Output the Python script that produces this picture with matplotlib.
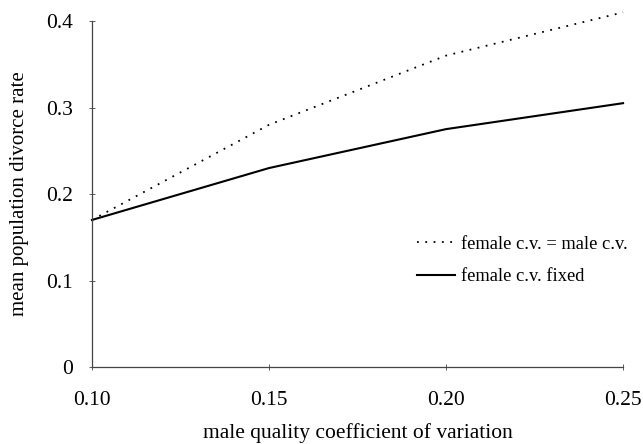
import matplotlib
matplotlib.use("Agg")
import matplotlib.pyplot as plt

x = [0.10, 0.15, 0.20, 0.25]
equal_cv = [0.17, 0.28, 0.36, 0.41]
fixed_cv = [0.17, 0.23, 0.275, 0.305]
xticks = [0.10, 0.15, 0.20, 0.25]
xtick_labels = ["0.10", "0.15", "0.20", "0.25"]
yticks = [0, 0.1, 0.2, 0.3, 0.4]
ytick_labels = ["0", "0.1", "0.2", "0.3", "0.4"]

plt.rcParams['font.family'] = ['Liberation Serif', 'DejaVu Serif']

fig = plt.figure(figsize=(6.43, 4.44), dpi=100)
ax = fig.add_axes([0.143, 0.1734, 0.826, 0.7793])

ax.plot(x, equal_cv, color='black', linestyle=(0, (1, 3.6)), linewidth=1.3,
        label='female c.v. = male c.v.', clip_on=False)
ax.plot(x, fixed_cv, color='black', linestyle='-', linewidth=1.5,
        label='female c.v. fixed', clip_on=False)

ax.set_xlim(0.10, 0.25)
ax.set_ylim(0, 0.4)
ax.set_xticks(xticks)
ax.set_xticklabels(xtick_labels)
ax.set_yticks(yticks)
ax.set_yticklabels(ytick_labels)

for s in ['top', 'right']:
    ax.spines[s].set_visible(False)
for s in ['left', 'bottom']:
    ax.spines[s].set_color('#444444')
    ax.spines[s].set_linewidth(0.9)

ax.tick_params(axis='both', direction='inout', length=5, width=0.6, color='#444444',
               labelsize=15.5)
ax.tick_params(axis='x', pad=14.5)
ax.tick_params(axis='y', pad=11)

ax.set_xlabel('male quality coefficient of variation', fontsize=15.5, labelpad=10)
ax.set_ylabel('mean population divorce rate', fontsize=15, labelpad=10)
ax.yaxis.set_label_coords(-0.118, 0.5)

leg = ax.legend(loc='upper left', bbox_to_anchor=(0.58, 0.428), frameon=False,
                fontsize=13.3, handlelength=2.1, handletextpad=0.3, labelspacing=0.85)

fig.savefig('out.png', dpi=100)
